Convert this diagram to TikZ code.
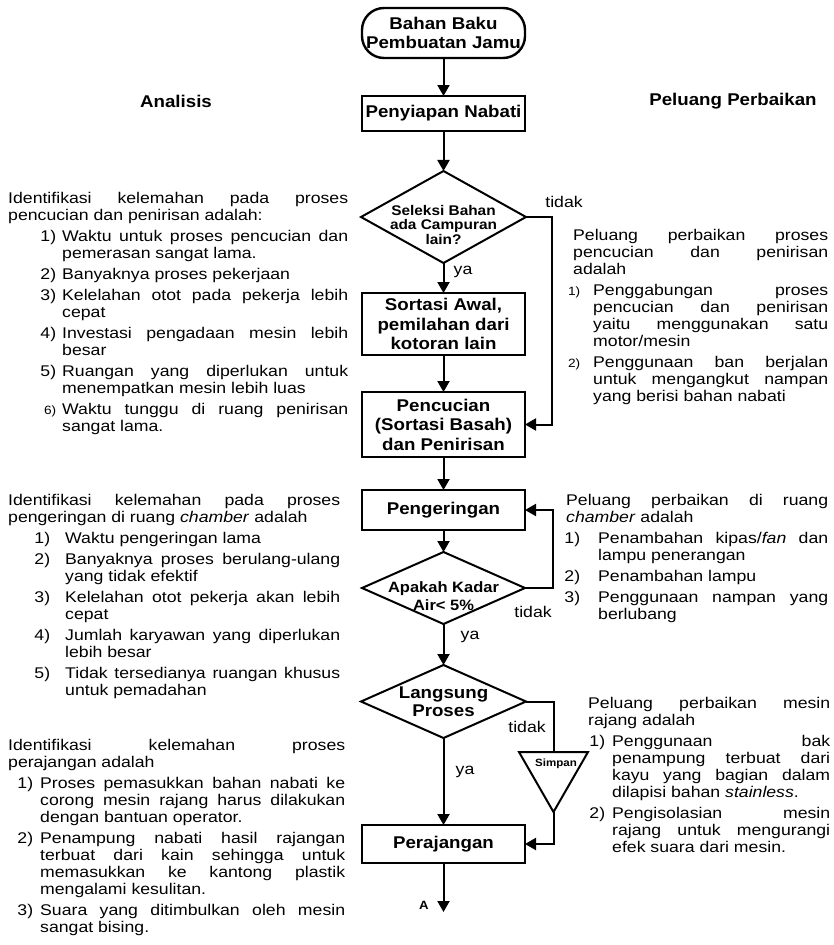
\documentclass[tikz,border=0pt]{standalone}
\usepackage{fontspec}
\setmainfont{Liberation Sans}[FakeStretch=1.14]
\newfontfamily\kotakfont{Liberation Sans}[FakeStretch=1.1]
\usetikzlibrary{arrows.meta,positioning,shapes.geometric}

\newlength\butirkiri
\newlength\butirjarak
\newcommand{\butir}[1]{\par\leftskip=\butirkiri\noindent\llap{#1\hspace{\butirjarak}}\ignorespaces}
\newcommand{\aturblok}[2]{\setlength\butirkiri{#1}\setlength\butirjarak{#2}%
  \parskip=4pt\parindent=0pt\hyphenpenalty=10000\exhyphenpenalty=10000%
  \tolerance=10000\hbadness=10000\relax}

\begin{document}
\begin{tikzpicture}[x=1pt, y=-1pt,
  proses/.style={draw, line width=2.4pt, minimum width=163pt, inner sep=2pt, outer sep=0pt,
    align=center, font=\kotakfont\bfseries\fontsize{17}{19.5}\selectfont},
  mulai/.style={proses, rounded corners=22pt, minimum height=50pt},
  keputusan/.style={diamond, draw, line width=2pt, align=center, outer sep=0pt},
  aliran/.style={-{Triangle[length=11pt,width=12pt]}, line width=2pt},
  garis/.style={line width=2pt},
  blok/.style={anchor=north west, inner sep=0pt, align=justify, text width=#1,
    font=\fontsize{15.5}{17}\selectfont},
  judul/.style={font=\kotakfont\bfseries\fontsize{17}{20}\selectfont},
  ket/.style={font=\fontsize{15.5}{17}\selectfont, inner sep=0pt}
]
  \useasboundingbox (0,0) rectangle (834,945);

  % alur utama
  \node[mulai] (bahan) at (443.5,33) {Bahan Baku\\Pembuatan Jamu};
  \node[proses, below=38pt of bahan, minimum height=35pt] (siap) {Penyiapan Nabati};
  \node[keputusan, below=40pt of siap, minimum width=165pt, minimum height=92pt,
    aspect=1.8, inner sep=-9pt, font=\kotakfont\bfseries\fontsize{14}{14.5}\selectfont]
    (seleksi) {\rule{0pt}{26pt}Seleksi Bahan\\ada Campuran\\lain?};
  \node[proses, below=30pt of seleksi, minimum height=62pt] (sortasi)
    {Sortasi Awal,\\pemilahan dari\\kotoran lain};
  \node[proses, below=37pt of sortasi, minimum height=65pt] (cuci)
    {Pencucian\\(Sortasi Basah)\\dan Penirisan};
  \node[proses, below=33pt of cuci, minimum height=40pt] (kering) {Pengeringan};
  \node[keputusan, below=22pt of kering, minimum width=163pt, minimum height=72pt,
    aspect=2.26, inner sep=-9pt, font=\kotakfont\bfseries\fontsize{15}{18}\selectfont]
    (kadar) {\rule{0pt}{28pt}Apakah Kadar\\Air< 5\%};
  \node[keputusan, below=41pt of kadar, minimum width=165pt, minimum height=73pt,
    aspect=2.26, inner sep=-3pt, font=\kotakfont\bfseries\fontsize{17}{18}\selectfont]
    (langsung) {Langsung\\Proses};
  \node[proses, below=87pt of langsung, minimum height=38pt] (rajang) {Perajangan};
  \coordinate (ujung) at (443.5,912);
  \node[font=\kotakfont\bfseries\fontsize{12}{14}\selectfont] (hurufA) at (424,905) {A};

  % simpan
  \coordinate (simpanatas) at (553.5,752);
  \coordinate (simpanujung) at (553.5,812);
  \draw[garis, line join=miter] (519,752) -- (588,752) -- (simpanujung) -- cycle;
  \node[font=\kotakfont\bfseries\fontsize{10.5}{12}\selectfont, inner sep=0pt] (simpan)
    at (556,764) {Simpan};

  \draw[aliran] (bahan) -- (siap);
  \draw[aliran] (siap) -- (seleksi);
  \draw[aliran] (seleksi) -- (sortasi);
  \draw[aliran] (seleksi.east) -- ++(26,0) |- (cuci.east);
  \draw[aliran] (sortasi) -- (cuci);
  \draw[aliran] (cuci) -- (kering);
  \draw[aliran] (kering) -- (kadar);
  \draw[aliran] (kadar.east) -- ++(28,0) |- (kering.east);
  \draw[aliran] (kadar) -- (langsung);
  \draw[garis] (langsung.east) -| (simpanatas);
  \draw[aliran] (simpanujung) |- (rajang.east);
  \draw[aliran] (langsung) -- (rajang);
  \draw[aliran] (rajang) -- (ujung);

  \node[ket] (ya1) at (463,272) {ya};
  \node[ket] (tidak1) at (564,202) {tidak};
  \node[ket] (ya2) at (470,637) {ya};
  \node[ket] (tidak2) at (533,612) {tidak};
  \node[ket] (ya3) at (465,772) {ya};
  \node[ket] (tidak3) at (527,727) {tidak};

  % judul kolom
  \node[judul] (analisis) at (176,101) {Analisis};
  \node[judul] (peluang) at (733,101) {Peluang Perbaikan};

  % analisis
  \node[blok=340pt] (lemah1) at (8,192) {\aturblok{54pt}{6pt}%
    Identifikasi kelemahan pada proses\linebreak pencucian dan penirisan adalah:
    \butir{1)}Waktu untuk proses pencucian dan\linebreak pemerasan sangat lama.
    \butir{2)}Banyaknya proses pekerjaan
    \butir{3)}Kelelahan otot pada pekerja lebih\linebreak cepat
    \butir{4)}Investasi pengadaan mesin lebih\linebreak besar
    \butir{5)}Ruangan yang diperlukan untuk\linebreak menempatkan mesin lebih luas
    \butir{{\fontsize{12}{17}\selectfont 6)}}Waktu tunggu di ruang penirisan\linebreak sangat lama.\par};

  \node[blok=332pt] (lemah2) at (8,494) {\aturblok{57pt}{15pt}%
    Identifikasi kelemahan pada proses\linebreak pengeringan di ruang \textit{chamber} adalah
    \butir{1)}Waktu pengeringan lama
    \butir{2)}Banyaknya proses berulang-ulang\linebreak yang tidak efektif
    \butir{3)}Kelelahan otot pekerja akan lebih\linebreak cepat
    \butir{4)}Jumlah karyawan yang diperlukan\linebreak lebih besar
    \butir{5)}Tidak tersedianya ruangan khusus\linebreak untuk pemadahan\par};

  \node[blok=337pt] (lemah3) at (8,739) {\aturblok{32pt}{7pt}%
    Identifikasi kelemahan proses\linebreak perajangan adalah
    \butir{1)}Proses pemasukkan bahan nabati ke\linebreak corong mesin rajang harus dilakukan\linebreak dengan bantuan operator.
    \butir{2)}Penampung nabati hasil rajangan\linebreak terbuat dari kain sehingga untuk\linebreak memasukkan ke kantong plastik\linebreak mengalami kesulitan.
    \butir{3)}Suara yang ditimbulkan oleh mesin\linebreak sangat bising.\par};

  % peluang perbaikan
  \node[blok=255pt] (baik1) at (573,229) {\aturblok{20pt}{13pt}%
    Peluang perbaikan proses\linebreak pencucian dan penirisan\linebreak adalah
    \butir{{\fontsize{12}{17}\selectfont 1)}}Penggabungan proses\linebreak pencucian dan penirisan\linebreak yaitu menggunakan satu\linebreak motor/mesin
    \butir{{\fontsize{12}{17}\selectfont 2)}}Penggunaan ban berjalan\linebreak untuk mengangkut nampan\linebreak yang berisi bahan nabati\par};

  \node[blok=262pt] (baik2) at (566,494) {\aturblok{32pt}{18pt}%
    Peluang perbaikan di ruang\linebreak \textit{chamber} adalah
    \butir{1)}Penambahan kipas/\textit{fan} dan\linebreak lampu penerangan
    \butir{2)}Penambahan lampu
    \butir{3)}Penggunaan nampan yang\linebreak berlubang\par};

  \node[blok=242pt] (baik3) at (588,697) {\aturblok{24pt}{7pt}%
    Peluang perbaikan mesin\linebreak rajang adalah
    \butir{1)}Penggunaan bak\linebreak penampung terbuat dari\linebreak kayu yang bagian dalam\linebreak dilapisi bahan \textit{stainless}.
    \butir{2)}Pengisolasian mesin\linebreak rajang untuk mengurangi\linebreak efek suara dari mesin.\par};
\end{tikzpicture}
\end{document}
